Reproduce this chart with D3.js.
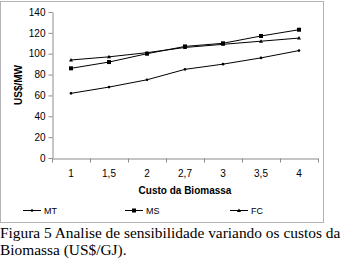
<!DOCTYPE html>
<html>
<head>
<script type="text/javascript" src="https://cdn.jsdelivr.net/npm/d3@7"></script>
<style>
	body { margin: 0; background: #fff; }
	svg text { font-family: "Liberation Sans", Arial, sans-serif; }
</style>
</head>
<body>
<script type="text/javascript">
	var w = 345;
	var h = 259;
	var categories = ["1", "1,5", "2", "2,7", "3", "3,5", "4"];
	var mt = [62, 68, 75, 85, 90, 96, 103];
	var ms = [86, 92, 100, 107, 110, 117, 123];
	var fc = [94, 97, 101, 106, 109, 112, 115];
	var yTicks = [0, 20, 40, 60, 80, 100, 120, 140];
	var series = [
		{name: "MT", values: mt, marker: "dot"},
		{name: "MS", values: ms, marker: "square"},
		{name: "FC", values: fc, marker: "triangle"}
	];

	var plot = {left: 52, right: 318, top: 12, bottom: 158};

	var svg = d3.select("body").append("svg")
		.attr("width", w)
		.attr("height", h);

	// chart frame
	svg.append("rect")
		.attr("x", 0.5).attr("y", 1.5)
		.attr("width", 323).attr("height", 221)
		.attr("fill", "#fff")
		.attr("stroke", "#b4b4b4");

	var xScale = d3.scaleBand()
		.domain(categories)
		.range([plot.left, plot.right]);

	var yScale = d3.scaleLinear()
		.domain([0, 140])
		.range([plot.bottom, plot.top]);

	// y axis
	var yAxis = svg.append("g")
		.attr("transform", "translate(" + (plot.left + 0.5) + ",0)")
		.call(d3.axisLeft(yScale).tickValues(yTicks).tickSize(4).tickSizeOuter(0));
	yAxis.selectAll("text").attr("font-size", 10).attr("fill", "#000").attr("x", -7);

	// x axis
	var xAxis = svg.append("g")
		.attr("transform", "translate(0," + (plot.bottom + 0.5) + ")")
		.call(d3.axisBottom(xScale).tickSize(0).tickSizeOuter(0));
	xAxis.selectAll("text").attr("font-size", 10).attr("fill", "#000").attr("dy", "0").attr("y", 18);
	// tick marks between categories
	var bounds = categories.map(function (c) { return xScale(c); }).concat([plot.right]);
	xAxis.selectAll("line.bound")
		.data(bounds)
		.enter().append("line")
		.attr("class", "bound")
		.attr("x1", function (d) { return Math.round(d) + 0.5; })
		.attr("x2", function (d) { return Math.round(d) + 0.5; })
		.attr("y1", 0).attr("y2", 4);

	svg.selectAll(".domain, .tick line, line.bound").attr("stroke", "#8c8c8c");

	// axis titles
	svg.append("text")
		.attr("transform", "translate(22," + ((plot.top + plot.bottom) / 2) + ") rotate(-90)")
		.attr("text-anchor", "middle")
		.attr("font-size", 10).attr("font-weight", "bold")
		.text("US$/MW");

	svg.append("text")
		.attr("x", (plot.left + plot.right) / 2)
		.attr("y", 194)
		.attr("text-anchor", "middle")
		.attr("font-size", 10).attr("font-weight", "bold")
		.text("Custo da Biomassa");

	var line = d3.line()
		.x(function (d, i) { return xScale(categories[i]) + xScale.bandwidth() / 2; })
		.y(function (d) { return yScale(d); });

	function drawMarker(g, type, x, y) {
		if (type === "square") {
			g.append("rect").attr("x", x - 2).attr("y", y - 2).attr("width", 4).attr("height", 4).attr("fill", "#000");
		} else if (type === "triangle") {
			g.append("path").attr("d", "M" + x + "," + (y - 2) + "L" + (x + 2) + "," + (y + 1.5) + "L" + (x - 2) + "," + (y + 1.5) + "Z").attr("fill", "#000");
		} else {
			g.append("circle").attr("cx", x).attr("cy", y).attr("r", 1.3).attr("fill", "#000");
		}
	}

	series.forEach(function (s) {
		svg.append("path")
			.datum(s.values)
			.attr("fill", "none")
			.attr("stroke", "#000")
			.attr("stroke-width", 1)
			.attr("d", line);
		var g = svg.append("g");
		s.values.forEach(function (v, i) {
			drawMarker(g, s.marker, xScale(categories[i]) + xScale.bandwidth() / 2, yScale(v));
		});
	});

	// legend
	var legendX = [23, 125, 230];
	series.forEach(function (s, i) {
		var lg = svg.append("g");
		var ly = 210;
		lg.append("line")
			.attr("x1", legendX[i]).attr("x2", legendX[i] + 18)
			.attr("y1", ly + 0.5).attr("y2", ly + 0.5)
			.attr("stroke", "#000");
		drawMarker(lg, s.marker, legendX[i] + 9, ly + 0.5);
		lg.append("text")
			.attr("x", legendX[i] + 21)
			.attr("y", ly + 3.5)
			.attr("font-size", 9)
			.text(s.name);
	});

	// caption
	var caption = svg.append("text")
		.attr("font-size", 15.4)
		.style("font-family", "'Liberation Serif', 'Times New Roman', serif");
	caption.append("tspan").attr("x", 0).attr("y", 238).text("Figura 5 Analise de sensibilidade variando os custos da");
	caption.append("tspan").attr("x", 0).attr("y", 255).text("Biomassa (US$/GJ).");
</script>
</body>
</html>
